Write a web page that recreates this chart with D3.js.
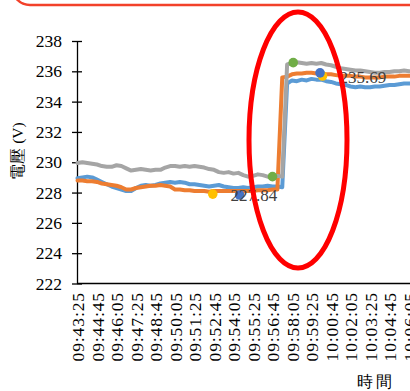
<!DOCTYPE html>
<html><head><meta charset="utf-8">
<script src="https://cdn.jsdelivr.net/npm/d3@7"></script>
<style>html,body{margin:0;padding:0;background:#fff;overflow:hidden}</style>
</head><body><svg id="c" width="410" height="391"></svg>
<script>
// ---------- data ----------
const startTime = "09:43:25";
const sampleStepSec = 20;
const xTickLabels = ["09:43:25","09:44:45","09:46:05","09:47:25","09:48:45","09:50:05","09:51:25","09:52:45","09:54:05","09:55:25","09:56:45","09:58:05","09:59:25","10:00:45","10:02:05","10:03:25","10:04:45","10:06:05"];
const yTicks = [222,224,226,228,230,232,234,236,238];

const seriesBlue = [228.95,229.0,229.05,229.0,228.85,228.7,228.55,228.4,228.3,228.2,228.1,228.1,228.3,228.45,228.5,228.45,228.5,228.6,228.65,228.7,
  228.65,228.7,228.65,228.55,228.55,228.5,228.45,228.4,228.45,228.5,228.4,228.35,228.3,228.3,228.35,228.3,228.35,228.4,228.4,228.45,
  228.4,228.4,228.35,235.2,235.4,235.35,235.45,235.4,235.5,235.45,235.45,235.35,235.3,235.2,235.15,235.1,235.0,234.95,235.0,234.95,
  234.95,235.0,235.0,235.05,235.1,235.1,235.15,235.2,235.2,235.2,235.15,235.2,235.2];
const seriesOrange = [228.8,228.8,228.75,228.75,228.7,228.6,228.55,228.5,228.45,228.35,228.2,228.2,228.3,228.35,228.4,228.45,228.45,228.5,228.45,228.4,
  228.2,228.2,228.15,228.15,228.1,228.1,228.1,228.05,228.1,228.1,228.1,228.1,228.1,228.1,228.1,228.1,228.1,228.15,228.15,228.15,
  228.2,228.2,235.6,235.65,235.8,235.85,235.85,235.9,235.9,235.85,235.85,235.8,235.8,235.75,235.7,235.7,235.7,235.65,235.65,235.6,
  235.6,235.6,235.6,235.65,235.65,235.65,235.7,235.7,235.7,235.7,235.7,235.7,235.7];
const seriesGray = [229.95,230.0,229.95,229.9,229.85,229.75,229.7,229.7,229.8,229.75,229.6,229.45,229.5,229.55,229.5,229.45,229.5,229.5,229.65,229.75,
  229.75,229.7,229.75,229.7,229.75,229.7,229.65,229.55,229.5,229.35,229.3,229.35,229.25,229.3,229.15,229.05,229.1,229.2,229.15,229.05,
  229.05,229.1,229.05,236.45,236.55,236.6,236.55,236.5,236.55,236.5,236.55,236.45,236.4,236.3,236.2,236.15,236.1,236.05,236.05,236.0,
  235.95,235.9,235.9,235.95,235.95,236.0,236.0,236.05,236.0,236.05,236.0,236.05,236.0];

const markerYellowTimes = ["09:52:40","10:00:10"];
const markerYellowValues = [227.90, 235.69];
const markerDarkBlueTimes = ["09:54:30","10:00:00"];
const markerDarkBlueValues = [227.84, 235.90];
const markerGreenTimes = ["09:56:45","09:58:10"];
const markerGreenValues = [229.05, 236.57];

const yTitle = "電壓 (V)";
const xTitle = "時間";

// ---------- drawing ----------
const FONT = "Liberation Serif";
const toSec = s => { const [h,m,ss] = s.split(":").map(Number); return h*3600+m*60+ss; };
const t0 = toSec(startTime);
const svg = d3.select("#c").attr("font-family", FONT);
const x = d3.scaleLinear().domain([0, 1440]).range([77.5, 428.5]);
const y = d3.scaleLinear().domain([222, 238]).range([283.5, 41]);

// red rounded box at top
svg.append("rect").attr("x",12).attr("y",-40).attr("width",440).attr("height",45).attr("rx",18)
  .attr("fill","none").attr("stroke","#F2412A").attr("stroke-width",2.5);

// y axis
const ya = svg.append("g").attr("transform","translate(77,0)")
  .call(d3.axisLeft(y).tickValues(yTicks).tickSize(5).tickSizeOuter(0).tickFormat(d3.format("d")));
ya.attr("font-family", FONT).attr("font-size", null);
ya.select(".domain").attr("stroke","#000").attr("stroke-width",1.3);
ya.selectAll(".tick line").attr("x1",-5).attr("x2",5).attr("stroke","#000").attr("stroke-width",1.3);
ya.selectAll(".tick text").attr("x",-15).attr("font-size","17.5px").attr("fill","#000");

// x axis
const xa = svg.append("g").attr("transform","translate(0,283.5)")
  .call(d3.axisBottom(x).tickValues(xTickLabels.map(s=>toSec(s)-t0))
    .tickFormat((d,i)=>xTickLabels[i]).tickSize(0).tickSizeOuter(0));
xa.attr("font-family", FONT).attr("font-size", null);
xa.select(".domain").attr("stroke","#000").attr("stroke-width",1.3).attr("d","M77,0H440");
xa.selectAll(".tick text").attr("transform","rotate(-90)").attr("text-anchor","end")
  .attr("x",-8.5).attr("y",0).attr("dy","0.36em")
  .attr("font-size","17.5px").attr("letter-spacing","0.9px").attr("fill","#000");

// lines
const line = d3.line().x((d,i)=>x(i*sampleStepSec)).y(d=>y(d)).curve(d3.curveLinear);
[[seriesBlue,"#5B9BD5"],[seriesOrange,"#ED7D31"],[seriesGray,"#A5A5A5"]].forEach(([s,c])=>{
  svg.append("path").datum(s).attr("d",line).attr("fill","none").attr("stroke",c)
    .attr("stroke-width",4).attr("stroke-linejoin","round").attr("stroke-linecap","round");
});

// markers
[[markerYellowTimes,markerYellowValues,"#FFC000"],[markerDarkBlueTimes,markerDarkBlueValues,"#4472C4"],[markerGreenTimes,markerGreenValues,"#70AD47"]]
.forEach(([ts,vs,c])=>{
  svg.append("g").selectAll("circle").data(vs).join("circle")
    .attr("cx",(d,i)=>x(toSec(ts[i])-t0)).attr("cy",d=>y(d)).attr("r",4.8).attr("fill",c);
});

// data labels
const fmt = d3.format(".2f");
svg.append("text").attr("x",x(toSec(markerDarkBlueTimes[0])-t0)-9).attr("y",y(markerDarkBlueValues[0])+1)
  .attr("dominant-baseline","central").attr("font-size","17px").attr("fill","#404040")
  .text(fmt(markerDarkBlueValues[0]));
svg.append("text").attr("x",x(toSec(markerYellowTimes[1])-t0)+17).attr("y",y(markerYellowValues[1])+1)
  .attr("dominant-baseline","central").attr("font-size","17px").attr("fill","#404040")
  .text(fmt(markerYellowValues[1]));

// axis titles
svg.append("text").attr("transform","translate(17,151) rotate(-90)").attr("text-anchor","middle")
  .attr("dominant-baseline","central").attr("font-size","15.5px").attr("fill","#000").text(yTitle);
svg.append("text").attr("x",376).attr("y",381).attr("text-anchor","middle")
  .attr("dominant-baseline","central").attr("font-size","15.5px").attr("letter-spacing","3px").attr("fill","#000").text(xTitle);

// red ellipse
svg.append("ellipse").attr("cx",298).attr("cy",140).attr("rx",49).attr("ry",128)
  .attr("fill","none").attr("stroke","#FF0000").attr("stroke-width",5);
</script></body></html>
